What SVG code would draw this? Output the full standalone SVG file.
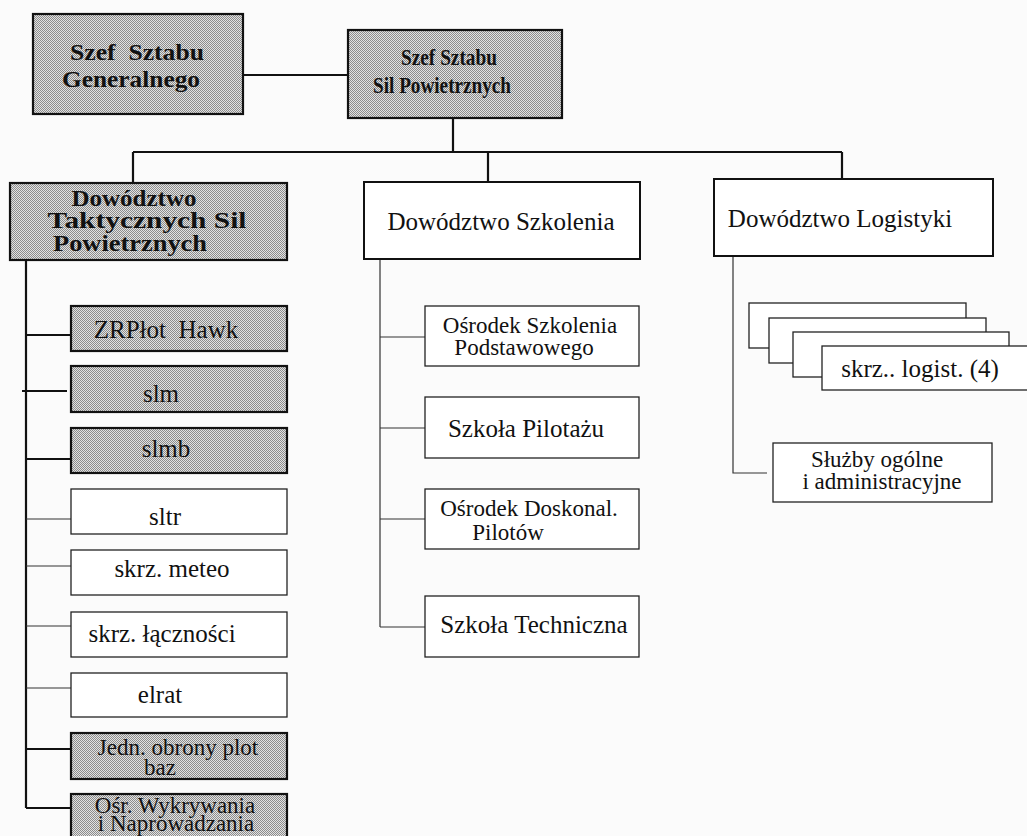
<svg xmlns="http://www.w3.org/2000/svg" width="1027" height="836" viewBox="0 0 1027 836">
<defs>
<pattern id="dots" width="2" height="2" patternUnits="userSpaceOnUse">
<rect width="2" height="2" fill="#e2e2e2"/>
<rect x="0" y="0" width="1" height="1" fill="#8c8c8c"/>
<rect x="1" y="1" width="1" height="1" fill="#8c8c8c"/>
</pattern>
</defs>
<style>
.sh{fill:url(#dots);stroke:#111;stroke-width:2.2}
.wb{fill:#fff;stroke:#222;stroke-width:1.3}
.wbt{fill:#fff;stroke:#111;stroke-width:2}
.hb{font-family:"Liberation Serif",serif;font-weight:bold;font-size:24px;fill:#111;text-anchor:middle}
.t{font-family:"Liberation Serif",serif;font-size:25px;fill:#111;text-anchor:middle}
.t2{font-family:"Liberation Serif",serif;font-size:23px;fill:#111;text-anchor:middle}
.tk{stroke:#111;stroke-width:2.2;fill:none}
.tn{stroke:#333;stroke-width:1.2;fill:none}
</style>
<rect width="1027" height="836" fill="#fbfbfb"/>
<g id="connectors">
<path class="tk" d="M243 75H348"/>
<path class="tk" d="M453 118V152"/>
<path class="tk" d="M133 152H842"/>
<path class="tk" d="M133 152V183M488 152V182M842 152V179"/>
<path class="tk" d="M26 260V808"/>
<path class="tk" d="M26 335H71M22 391H67M26 459H71M26 749H71M26 808H71"/>
<path class="tn" d="M26 519H71M26 566H71M26 626H71M26 688H71"/>
<path class="tn" d="M380 259V627M380 337H425M380 428H425M380 519H425M380 627H425"/>
<path class="tn" d="M733 256V473H767"/>
</g>
<g id="szef-gen">
<rect class="sh" x="33" y="14" width="210" height="100"/>
<text class="hb" x="137" y="60" textLength="134" lengthAdjust="spacingAndGlyphs">Szef&#160; Sztabu</text>
<text class="hb" x="131" y="87" textLength="138" lengthAdjust="spacingAndGlyphs">Generalnego</text>
</g>
<g id="szef-sp">
<rect class="sh" x="348" y="30" width="214" height="88"/>
<text class="hb" x="449" y="65" textLength="96" lengthAdjust="spacingAndGlyphs">Szef Sztabu</text>
<text class="hb" x="442" y="93" textLength="138" lengthAdjust="spacingAndGlyphs">Sil Powietrznych</text>
</g>
<g id="dtsp">
<rect class="sh" x="10" y="183" width="277" height="77"/>
<text class="hb" x="134" y="206" textLength="125" lengthAdjust="spacingAndGlyphs">Dowództwo</text>
<text class="hb" x="147" y="228" textLength="199" lengthAdjust="spacingAndGlyphs">Taktycznych Sil</text>
<text class="hb" x="130" y="251" textLength="154" lengthAdjust="spacingAndGlyphs">Powietrznych</text>
</g>
<g id="dszk">
<rect class="wbt" x="364" y="182" width="276" height="77"/>
<text class="t" x="501" y="230">Dowództwo Szkolenia</text>
</g>
<g id="dlog">
<rect class="wbt" x="714" y="179" width="279" height="77"/>
<text class="t" x="840" y="227">Dowództwo Logistyki</text>
</g>
<g id="zrplot">
<rect class="sh" x="71" y="306" width="216" height="45"/>
<text class="t" x="166" y="338">ZRPłot&#160; Hawk</text>
</g>
<g id="slm">
<rect class="sh" x="71" y="366" width="216" height="46"/>
<text class="t" x="161" y="402">slm</text>
</g>
<g id="slmb">
<rect class="sh" x="71" y="428" width="216" height="45"/>
<text class="t" x="166" y="457">slmb</text>
</g>
<g id="sltr">
<rect class="wb" x="71" y="489" width="216" height="45"/>
<text class="t" x="165" y="525">sltr</text>
</g>
<g id="meteo">
<rect class="wb" x="71" y="550" width="216" height="45"/>
<text class="t" x="172" y="577">skrz. meteo</text>
</g>
<g id="lacznosci">
<rect class="wb" x="71" y="612" width="216" height="45"/>
<text class="t" x="162" y="642">skrz. łączności</text>
</g>
<g id="elrat">
<rect class="wb" x="71" y="673" width="216" height="44"/>
<text class="t" x="160" y="703">elrat</text>
</g>
<g id="jedn">
<rect class="sh" x="71" y="733" width="216" height="46"/>
<text class="t2" x="178" y="755">Jedn. obrony plot</text>
<text class="t2" x="160" y="775">baz</text>
</g>
<g id="osr-wykr">
<rect class="sh" x="71" y="794" width="216" height="50"/>
<text class="t2" x="175" y="813">Ośr. Wykrywania</text>
<text class="t2" x="176" y="831">i Naprowadzania</text>
</g>
<g id="osp">
<rect class="wb" x="425" y="306" width="214" height="60"/>
<text class="t2" x="530" y="333">Ośrodek Szkolenia</text>
<text class="t2" x="524" y="355">Podstawowego</text>
</g>
<g id="pilotazu">
<rect class="wb" x="425" y="397" width="214" height="61"/>
<text class="t" x="526" y="437">Szkoła Pilotażu</text>
</g>
<g id="doskonal">
<rect class="wb" x="425" y="489" width="214" height="60"/>
<text class="t2" x="529" y="516">Ośrodek Doskonal.</text>
<text class="t2" x="508" y="540">Pilotów</text>
</g>
<g id="techniczna">
<rect class="wb" x="425" y="596" width="214" height="61"/>
<text class="t" x="534" y="633">Szkoła Techniczna</text>
</g>
<g id="skrz-logist">
<rect class="wb" x="749" y="303" width="217" height="45"/>
<rect class="wb" x="769" y="318" width="217" height="45"/>
<rect class="wb" x="793" y="332" width="216" height="45"/>
<rect class="wb" x="822" y="346" width="210" height="44"/>
<text class="t" x="920" y="377">skrz.. logist. (4)</text>
</g>
<g id="sluzby">
<rect class="wb" x="773" y="443" width="219" height="59"/>
<text class="t2" x="877" y="467">Służby ogólne</text>
<text class="t2" x="882" y="489">i administracyjne</text>
</g>
</svg>
